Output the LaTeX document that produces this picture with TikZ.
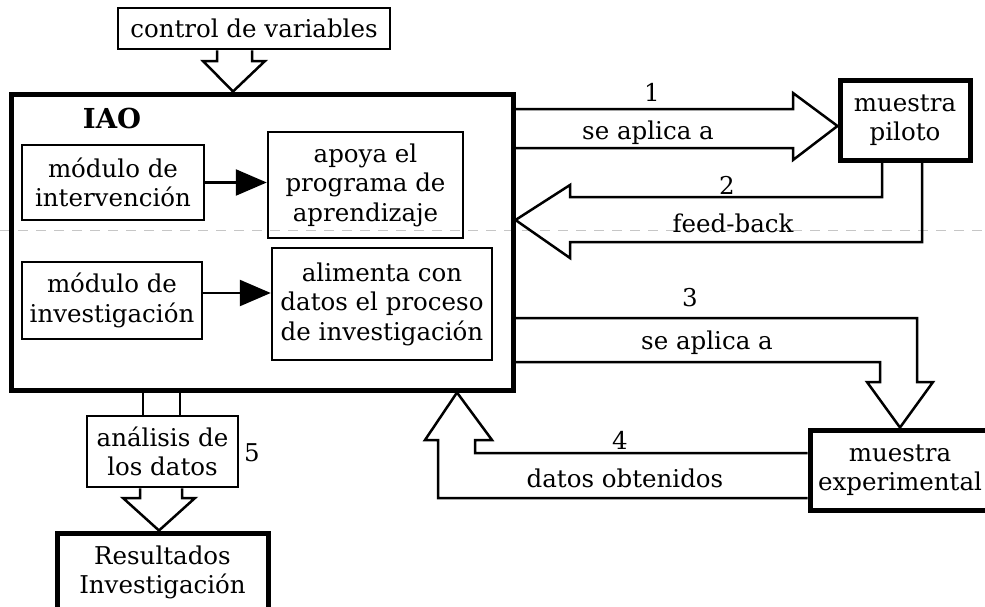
\documentclass[tikz,border=0pt]{standalone}
\usepackage{fontspec}
\setmainfont{DejaVu Serif}
\usetikzlibrary{arrows.meta,calc}
\begin{document}
\begin{tikzpicture}[x=1pt,y=-1pt,
  every node/.style={font=\fontsize{24.5}{29.5}\selectfont},
  thinbox/.style={draw, line width=2.5pt, inner sep=0pt, align=center},
  thickbox/.style={draw, line width=5pt, inner sep=0pt, align=center},
  hollow/.style={draw, line width=2.5pt, line join=miter},
  lbl/.style={inner sep=0pt},
  solidarrow/.style={line width=2.5pt, -{Triangle[length=31pt,width=26pt]}}]
\useasboundingbox (0,0) rectangle (985,606);
\clip (0,0) rectangle (985,606);
% faint scan seam
\draw[gray!45, line width=1pt, dash pattern=on 10pt off 8pt] (0,230) -- (985,230);
% boxes
\node[thinbox, minimum width=272pt, minimum height=41pt] (ctrl) at (254,28.5) {control de variables};
\node[thickbox, minimum width=502pt, minimum height=296pt] (iao) at (262,242) {};
\node[lbl, font=\fontsize{27.5}{30}\selectfont\bfseries] (iaol) at (112,118) {IAO};
\node[thinbox, minimum width=182pt, minimum height=75pt] (modint) at (113,182.5) {módulo de\\intervención};
\node[thinbox, minimum width=195pt, minimum height=106pt] (apoya) at (365.5,185) {apoya el\\programa de\\aprendizaje};
\node[thinbox, minimum width=180pt, minimum height=77pt] (modinv) at (112,300.5) {módulo de\\investigación};
\node[thinbox, minimum width=220pt, minimum height=112pt] (alim) at (382,304) {alimenta con\\datos el proceso\\de investigación};
\node[thinbox, minimum width=151pt, minimum height=71pt] (anal) at (162.5,451.5) {análisis de\\los datos};
\node[thickbox, minimum width=211pt, minimum height=79pt] (result) at (162.5,572.5) {Resultados\\Investigación};
\node[thickbox, minimum width=130pt, minimum height=80pt] (piloto) at (905,120) {muestra\\piloto};
\node[thickbox, minimum width=180pt, minimum height=80pt] (exper) at (900,470) {muestra\\experimental};
% solid arrows inside IAO
\draw[solidarrow] (modint.east) -- (modint.east -| apoya.west);
\draw[solidarrow] ($(modinv.east)+(0,-7.5)$) -- ($(modinv.east -| alim.west)+(0,-7.5)$);
% hollow arrows
\draw[hollow] (ctrl.south -| 217,0) -- (217,61) -- (203,61) -- (iao.north -| 233,0) -- (265,61) -- (252,61) -- (ctrl.south -| 252,0);
\draw[hollow] (iao.east |- 0,109) -- (793,109) -- (793,93) -- (piloto.west |- 0,126) -- (793,160) -- (793,148) -- (iao.east |- 0,148);
\draw[hollow] (piloto.south -| 882,0) -- (882,197) -- (570,197) -- (570,185) -- (iao.east |- 0,220) -- (570,258) -- (570,242) -- (922,242) -- (piloto.south -| 922,0);
\draw[hollow] (iao.east |- 0,318) -- (917,318) -- (917,382) -- (933,382) -- (exper.north -| 900,0) -- (867,382) -- (880,382) -- (880,362) -- (iao.east |- 0,362);
\draw[hollow] (exper.west |- 0,453) -- (475,453) -- (475,440) -- (492,440) -- (iao.south -| 457,0) -- (425,440) -- (438,440) -- (438,498) -- (exper.west |- 0,498);
\draw[hollow] (iao.south -| 143,0) -- (anal.north -| 143,0);
\draw[hollow] (iao.south -| 180,0) -- (anal.north -| 180,0);
\draw[hollow] (anal.south -| 140,0) -- (140,498) -- (123,498) -- (result.north -| 159,0) -- (195,498) -- (182,498) -- (anal.south -| 182,0);
% labels
\node[lbl] (l1) at (652,92) {1};
\node[lbl] (l1b) at (648,133) {se aplica a};
\node[lbl] (l2) at (727,185) {2};
\node[lbl] (l2b) at (733,223) {feed-back};
\node[lbl] (l3) at (690,298) {3};
\node[lbl] (l3b) at (707,343) {se aplica a};
\node[lbl] (l4) at (620,440) {4};
\node[lbl] (l4b) at (625,478) {datos obtenidos};
\node[lbl] (l5) at (252,453) {5};
\end{tikzpicture}
\end{document}
